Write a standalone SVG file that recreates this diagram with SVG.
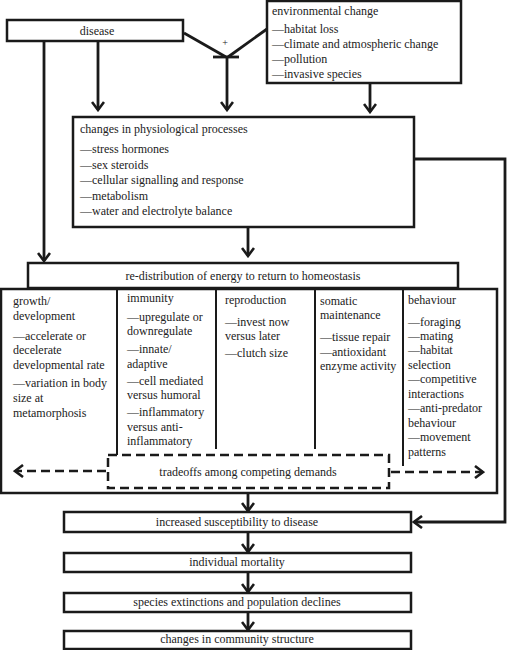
<svg xmlns="http://www.w3.org/2000/svg" width="509" height="650" viewBox="0 0 509 650" font-family="'Liberation Serif', 'Times New Roman', Tinos, 'DejaVu Serif', serif">
<style>
text{font-family:'Liberation Serif', 'Times New Roman', Tinos, 'DejaVu Serif', serif;font-size:12px;fill:#222}
.c{text-anchor:middle}
.box{fill:#fff;stroke:#1a1a1a;stroke-width:2.5}
.ln{fill:none;stroke:#1a1a1a;stroke-width:2.8}
.dv{fill:none;stroke:#1a1a1a;stroke-width:2}
.ds{fill:none;stroke:#1a1a1a;stroke-width:2.5;stroke-dasharray:9 5}
</style>
<defs>
<marker id="ah" viewBox="-10 -7 12 14" refX="0" refY="0" markerWidth="12" markerHeight="14" markerUnits="userSpaceOnUse" orient="auto">
<path d="M-8,-6 L0,0 L-8,6" fill="none" stroke="#1a1a1a" stroke-width="2.6"/>
</marker>
</defs>
<rect width="509" height="650" fill="#fff"/>

<g id="connectors">
<line class="ln" x1="98" y1="42" x2="98" y2="110" marker-end="url(#ah)"/>
<line class="ln" x1="44" y1="42" x2="44" y2="261" marker-end="url(#ah)"/>
<line class="ln" x1="184" y1="33" x2="226" y2="57"/>
<line class="ln" x1="267" y1="29" x2="228" y2="57"/>
<line class="ln" x1="213" y1="57" x2="239" y2="57"/>
<line class="ln" x1="227" y1="57" x2="227" y2="110" marker-end="url(#ah)"/>
<line class="ln" x1="370" y1="84" x2="370" y2="112" marker-end="url(#ah)"/>
<line class="ln" x1="248" y1="228" x2="248" y2="256" marker-end="url(#ah)"/>
<polyline class="ln" points="414,159 505,159 505,522 414,522" marker-end="url(#ah)"/>
<line class="ln" x1="248" y1="489" x2="248" y2="511" marker-end="url(#ah)"/>
<line class="ln" x1="248" y1="533" x2="248" y2="552" marker-end="url(#ah)"/>
<line class="ln" x1="248" y1="573" x2="248" y2="592" marker-end="url(#ah)"/>
<line class="ln" x1="248" y1="613" x2="248" y2="630" marker-end="url(#ah)"/>
<text x="225" y="46" class="c" style="font-size:10px">+</text>
</g>

<g id="disease">
<rect class="box" x="7" y="20" width="176" height="21"/>
<text x="97" y="35" class="c">disease</text>
</g>

<g id="environmental-change">
<rect class="box" x="267" y="1" width="194" height="82"/>
<text x="272" y="15">environmental change</text>
<text x="272" y="33">—habitat loss</text>
<text x="272" y="48">—climate and atmospheric change</text>
<text x="272" y="63">—pollution</text>
<text x="272" y="78">—invasive species</text>
</g>

<g id="physiological">
<rect class="box" x="73" y="117" width="341" height="110"/>
<text x="80" y="133">changes in physiological processes</text>
<text x="80" y="153">—stress hormones</text>
<text x="80" y="169">—sex steroids</text>
<text x="80" y="184">—cellular signalling and response</text>
<text x="80" y="200">—metabolism</text>
<text x="80" y="215">—water and electrolyte balance</text>
</g>

<g id="allocation">
<rect class="box" x="1" y="289" width="496" height="204"/>
<line class="dv" x1="117" y1="289" x2="117" y2="455"/>
<line class="dv" x1="216" y1="289" x2="216" y2="449"/>
<line class="dv" x1="315" y1="289" x2="315" y2="449"/>
<line class="dv" x1="403" y1="289" x2="403" y2="466"/>
<text x="13" y="305">growth/</text>
<text x="13" y="320">development</text>
<text x="13" y="340">—accelerate or</text>
<text x="13" y="354">decelerate</text>
<text x="13" y="369">developmental rate</text>
<text x="13" y="387">—variation in body</text>
<text x="13" y="402">size at</text>
<text x="13" y="417">metamorphosis</text>
<text x="127" y="302">immunity</text>
<text x="127" y="321">—upregulate or</text>
<text x="127" y="335">downregulate</text>
<text x="127" y="353">—innate/</text>
<text x="127" y="368">adaptive</text>
<text x="127" y="385">—cell mediated</text>
<text x="127" y="399">versus humoral</text>
<text x="127" y="416">—inflammatory</text>
<text x="127" y="431">versus anti-</text>
<text x="127" y="445">inflammatory</text>
<text x="225" y="304">reproduction</text>
<text x="225" y="326">—invest now</text>
<text x="225" y="340">versus later</text>
<text x="225" y="357">—clutch size</text>
<text x="320" y="305">somatic</text>
<text x="320" y="319">maintenance</text>
<text x="320" y="341">—tissue repair</text>
<text x="320" y="356">—antioxidant</text>
<text x="320" y="370">enzyme activity</text>
<text x="408" y="304">behaviour</text>
<text x="408" y="326">—foraging</text>
<text x="408" y="340">—mating</text>
<text x="408" y="354">—habitat</text>
<text x="408" y="369">selection</text>
<text x="408" y="383">—competitive</text>
<text x="408" y="398">interactions</text>
<text x="408" y="412">—anti-predator</text>
<text x="408" y="427">behaviour</text>
<text x="408" y="441">—movement</text>
<text x="408" y="456">patterns</text>
</g>

<g id="redistribution">
<rect class="box" x="28" y="263" width="430" height="25"/>
<text x="243" y="280" class="c">re-distribution of energy to return to homeostasis</text>
</g>

<g id="tradeoffs">
<rect x="108" y="455" width="281" height="33" fill="#fff" class="ds"/>
<line class="ds" x1="106" y1="471" x2="15" y2="471" marker-end="url(#ah)"/>
<line class="ds" x1="391" y1="472" x2="483" y2="472" marker-end="url(#ah)"/>
<text x="248" y="476" class="c">tradeoffs among competing demands</text>
</g>

<g id="susceptibility">
<rect class="box" x="64" y="512" width="347" height="20"/>
<text x="237" y="526" class="c">increased susceptibility to disease</text>
</g>
<g id="mortality">
<rect class="box" x="64" y="553" width="347" height="19"/>
<text x="237" y="566" class="c">individual mortality</text>
</g>
<g id="extinctions">
<rect class="box" x="64" y="593" width="347" height="19"/>
<text x="237" y="606" class="c">species extinctions and population declines</text>
</g>
<g id="community">
<rect class="box" x="64" y="631" width="347" height="18"/>
<text x="237" y="643" class="c">changes in community structure</text>
</g>
</svg>
